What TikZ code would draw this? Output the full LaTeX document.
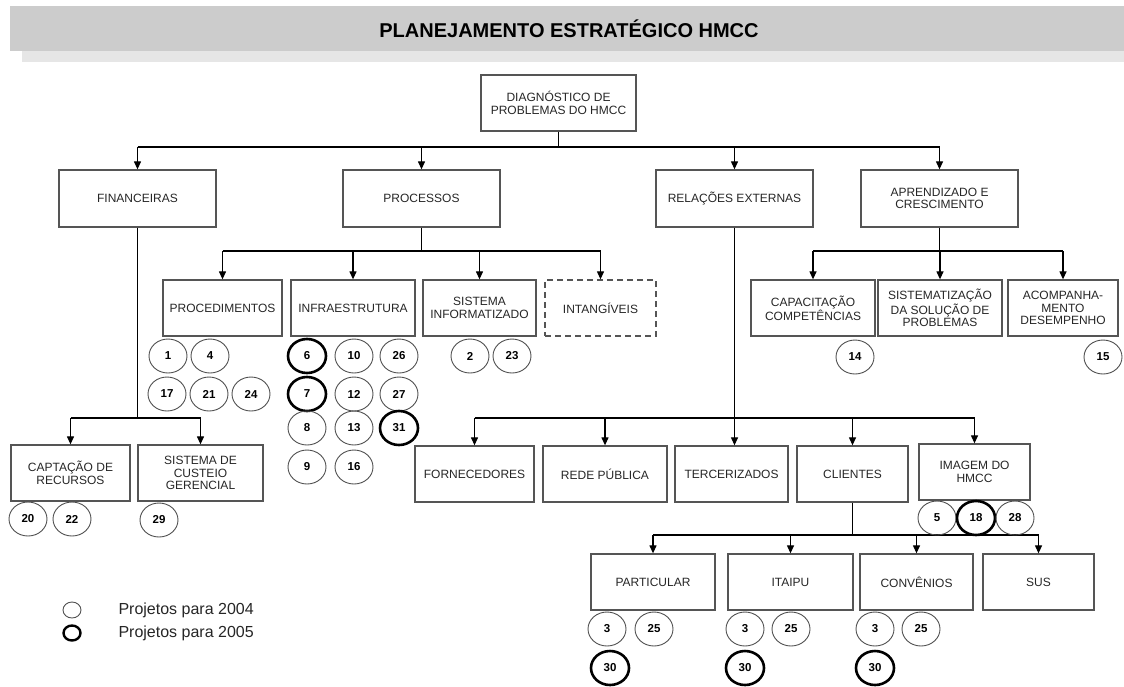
\documentclass[tikz,border=0pt]{standalone}
\usepackage{fontspec}
\setmainfont{Liberation Sans}
\usetikzlibrary{arrows.meta,shapes.geometric}
\definecolor{boxline}{HTML}{555555}
\definecolor{barfill}{HTML}{CCCCCC}
\definecolor{barlight}{HTML}{E6E6E6}
\definecolor{thinring}{HTML}{505050}
\begin{document}
\begin{tikzpicture}[x=1pt,y=-1pt,
  box/.style={draw=boxline,line width=1.3pt,minimum height=56pt,inner sep=1pt,
    align=center,text=black!85,font=\fontsize{12}{12.5}\selectfont},
  conn/.style={line width=1.2pt,draw=black},
  arr/.style={conn,-{Triangle[length=8pt,width=7pt]}},
  proj/.style={ellipse,draw=thinring,line width=0.9pt,minimum width=38pt,
    minimum height=34pt,inner sep=0pt,font=\bfseries\fontsize{11.5}{12}\selectfont},
  projthick/.style={proj,draw=black,line width=2.6pt},
  legtext/.style={anchor=west,font=\fontsize{16}{18}\selectfont,text=black!85}]

\useasboundingbox (0,0) rectangle (1124,686);

% title banner
\fill[barlight] (22,51) rectangle (1124,62);
\fill[barfill] (10,6) rectangle (1124,51);
\node[font=\bfseries\fontsize{20}{22}\selectfont] (title) at (569,28.5)
  {PLANEJAMENTO ESTRATÉGICO HMCC};

% root and first level
\node[box,minimum width=155pt] (root) at (558.5,103) {DIAGNÓSTICO DE\\PROBLEMAS DO HMCC};
\node[box,minimum width=157pt,minimum height=57pt] (fin)  at (137.5,198.5) {FINANCEIRAS};
\node[box,minimum width=157pt,minimum height=57pt] (proc) at (421.5,198.5) {PROCESSOS};
\node[box,minimum width=157pt,minimum height=57pt] (rel)  at (734.5,198.5) {RELAÇÕES EXTERNAS};
\node[box,minimum width=157pt,minimum height=57pt] (apr)  at (939.5,198.5) {APRENDIZADO E\\CRESCIMENTO};

% second level under PROCESSOS
\node[box,minimum width=119pt] (procd)  at (222.5,308) {PROCEDIMENTOS};
\node[box,minimum width=124pt] (infra)  at (353,308)   {INFRAESTRUTURA};
\node[box,minimum width=113pt] (sisinf) at (479.5,308) {SISTEMA\\INFORMATIZADO};
\node[box,minimum width=111pt,dashed,dash pattern=on 6pt off 4pt] (intang) at (600.5,308) {INTANGÍVEIS};

% second level under APRENDIZADO
\node[box,minimum width=124pt] (capac)  at (813,308)  {CAPACITAÇÃO\\COMPETÊNCIAS};
\node[box,minimum width=124pt] (sistem) at (940,308)  {SISTEMATIZAÇÃO\\DA SOLUÇÃO DE\\PROBLEMAS};
\node[box,minimum width=110pt] (acomp)  at (1063,308) {ACOMPANHA-\\MENTO\\DESEMPENHO};

% second level under FINANCEIRAS
\node[box,minimum width=119pt] (capt)    at (70.5,473)  {CAPTAÇÃO DE\\RECURSOS};
\node[box,minimum width=125pt] (custeio) at (200.5,473) {SISTEMA DE\\CUSTEIO\\GERENCIAL};

% second level under RELAÇÕES EXTERNAS
\node[box,minimum width=119pt] (forn)   at (474.5,474) {FORNECEDORES};
\node[box,minimum width=124pt] (rede)   at (605,474)   {REDE PÚBLICA};
\node[box,minimum width=113pt] (terc)   at (731.5,474) {TERCERIZADOS};
\node[box,minimum width=111pt] (cli)    at (852.5,474) {CLIENTES};
\node[box,minimum width=111pt] (imagem) at (974.5,472) {IMAGEM DO\\HMCC};

% third level under CLIENTES
\node[box,minimum width=124pt] (part)   at (653,582)    {PARTICULAR};
\node[box,minimum width=125pt] (itaipu) at (790.5,582)  {ITAIPU};
\node[box,minimum width=113pt] (conv)   at (916.5,582)  {CONVÊNIOS};
\node[box,minimum width=111pt] (sus)    at (1038.5,582) {SUS};

% connectors: a stem from each parent, one bus line, then one arrow per child
\coordinate (b1) at (558.5,147);
\draw[conn] (root) -- (b1);
\draw[conn] (fin.north |- b1) -- (apr.north |- b1);
\foreach \t in {fin,proc,rel,apr} \draw[arr] (\t.north |- b1) -- (\t);

\coordinate (b2) at (421.5,251);
\draw[conn] (proc) -- (b2);
\draw[conn] (procd.north |- b2) -- (intang.north |- b2);
\foreach \t in {procd,infra,sisinf,intang} \draw[arr] (\t.north |- b2) -- (\t);

\coordinate (b4) at (939.5,251);
\draw[conn] (apr) -- (b4);
\draw[conn] (capac.north |- b4) -- (acomp.north |- b4);
\foreach \t in {capac,sistem,acomp} \draw[arr] (\t.north |- b4) -- (\t);

\coordinate (b5) at (137.5,418);
\draw[conn] (fin) -- (b5);
\draw[conn] (capt.north |- b5) -- (custeio.north |- b5);
\foreach \t in {capt,custeio} \draw[arr] (\t.north |- b5) -- (\t);

\coordinate (b3) at (734.5,418);
\draw[conn] (rel) -- (b3);
\draw[conn] (forn.north |- b3) -- (imagem.north |- b3);
\foreach \t in {forn,rede,cli,imagem} \draw[arr] (\t.north |- b3) -- (\t);
\draw[arr] (b3) -- (b3 |- terc.north);

\coordinate (b6) at (852.5,535);
\draw[conn] (cli) -- (b6);
\draw[conn] (part.north |- b6) -- (sus.north |- b6);
\foreach \t in {part,itaipu,conv,sus} \draw[arr] (\t.north |- b6) -- (\t);

% project markers
\node[proj] (p1)  at (168,356) {1};
\node[proj] (p4)  at (210,356) {4};
\node[proj] (p17) at (167,394) {17};
\node[proj] (p21) at (209,394) {21};
\node[proj] (p24) at (251,394) {24};

\node[projthick] (p6)  at (307,356) {6};
\node[proj]      (p10) at (354,356) {10};
\node[proj]      (p26) at (399,356) {26};
\node[projthick] (p7)  at (307,394) {7};
\node[proj]      (p12) at (354,394) {12};
\node[proj]      (p27) at (399,394) {27};
\node[proj]      (p8)  at (307,428) {8};
\node[proj]      (p13) at (354,428) {13};
\node[projthick] (p31) at (399,428) {31};
\node[proj]      (p9)  at (307,467) {9};
\node[proj]      (p16) at (354,467) {16};

\node[proj] (p2)  at (470,356) {2};
\node[proj] (p23) at (512,356) {23};

\node[proj] (p14) at (855,357)  {14};
\node[proj] (p15) at (1103,357) {15};

\node[proj] (p20) at (28,519)  {20};
\node[proj] (p22) at (72,519)  {22};
\node[proj] (p29) at (159,520) {29};

\node[proj]      (p5)  at (937,518)  {5};
\node[projthick] (p18) at (976,518)  {18};
\node[proj]      (p28) at (1015,518) {28};

\node[proj]      (pa3)  at (607,629) {3};
\node[proj]      (pa25) at (654,629) {25};
\node[projthick] (pa30) at (610,668) {30};
\node[proj]      (it3)  at (745,629) {3};
\node[proj]      (it25) at (791,629) {25};
\node[projthick] (it30) at (745,668) {30};
\node[proj]      (cv3)  at (875,629) {3};
\node[proj]      (cv25) at (921,629) {25};
\node[projthick] (cv30) at (875,668) {30};

% legend
\node[proj,minimum width=18pt,minimum height=16pt] (lg1) at (72,610) {};
\node[projthick,line width=2.4pt,minimum width=17pt,minimum height=15pt] (lg2) at (72,633) {};
\node[legtext] (lt1) at (115,610) {Projetos para 2004};
\node[legtext] (lt2) at (115,633) {Projetos para 2005};

\end{tikzpicture}
\end{document}
